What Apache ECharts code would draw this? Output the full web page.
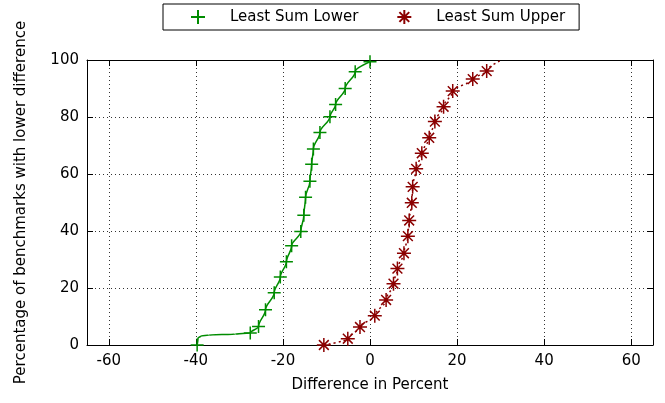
<!DOCTYPE html>
<html>
<head>
<meta charset="utf-8">
<script src="https://cdn.jsdelivr.net/npm/echarts@6/dist/echarts.min.js"></script>
<style>html,body{margin:0;padding:0;background:#fff}#c{width:665px;height:403px}</style>
</head>
<body>
<div id="c"></div>
<script>
// Tick labels
const xTicks = [-60, -40, -20, 0, 20, 40, 60];
const yTicks = [0, 20, 40, 60, 80, 100];

// Least Sum Lower: marker points
const lowerX = [-39.7, -27.5, -25.6, -24.0, -22.0, -20.6, -19.2, -18.0, -15.9, -15.2, -14.8, -13.8, -13.4, -13.0, -11.5, -9.2, -7.9, -5.7, -3.4, 0.0];
const lowerY = [0, 4.2, 6.5, 12.4, 18.3, 23.9, 29.2, 34.8, 39.8, 45.5, 51.8, 57.5, 63.4, 68.8, 74.6, 80.1, 84.4, 90.0, 95.9, 99.4];
// Least Sum Lower: traced curve (knee near the bottom, then through the markers)
const lowerCurveX = [-39.7, -39.5, -38.8, -37.0, -31.0, -27.5, -25.6, -24.0, -22.0, -20.6, -19.2, -18.0, -15.9, -15.2, -14.8, -13.8, -13.4, -13.0, -11.5, -9.2, -7.9, -5.7, -3.4, 0.0];
const lowerCurveY = [0, 2.4, 3.2, 3.5, 3.8, 4.2, 6.5, 12.4, 18.3, 23.9, 29.2, 34.8, 39.8, 45.5, 51.8, 57.5, 63.4, 68.8, 74.6, 80.1, 84.4, 90.0, 95.9, 99.4];

// Least Sum Upper: marker points
const upperX = [-10.6, -5.1, -2.3, 1.1, 3.7, 5.4, 6.3, 7.8, 8.7, 9.0, 9.6, 9.8, 10.6, 11.9, 13.6, 14.9, 16.9, 19.0, 23.6, 26.8];
const upperY = [0, 2.2, 6.3, 10.3, 15.8, 21.5, 26.8, 32.2, 38.2, 43.7, 49.9, 55.5, 61.8, 67.3, 72.7, 78.4, 83.6, 89.1, 93.3, 96.1];
// Least Sum Upper: traced curve (continues to the top border)
const upperCurveX = [-10.6, -5.1, -2.3, 1.1, 3.7, 5.4, 6.3, 7.8, 8.7, 9.0, 9.6, 9.8, 10.6, 11.9, 13.6, 14.9, 16.9, 19.0, 23.6, 26.8, 30.2];
const upperCurveY = [0, 2.2, 6.3, 10.3, 15.8, 21.5, 26.8, 32.2, 38.2, 43.7, 49.9, 55.5, 61.8, 67.3, 72.7, 78.4, 83.6, 89.1, 93.3, 96.1, 100];

const zip = (a, b) => a.map((v, i) => [v, b[i]]);
const GREEN = '#008c00';
const RED = '#8b0000';
const FONT = 'DejaVu Sans';
const FS = 15;
const plusPath = 'path://M0,6L12,6M6,0L6,12';
const starPath = 'path://M0,6L12,6M6,0L6,12M1.8,1.8L10.2,10.2M10.2,1.8L1.8,10.2';

const baseX = {
  type: 'value', min: -65, max: 65,
  axisLine: { show: true, onZero: false, lineStyle: { color: '#000', width: 1 } },
  axisTick: { show: true, inside: true, length: 6, customValues: xTicks, lineStyle: { color: '#000' } },
  splitLine: { show: false }
};
const baseY = {
  type: 'value', min: 0, max: 100, interval: 20,
  axisLine: { show: true, onZero: false, lineStyle: { color: '#000', width: 1 } },
  axisTick: { show: true, inside: true, length: 6, lineStyle: { color: '#000' } },
  splitLine: { show: false }
};

const chart = echarts.init(document.getElementById('c'), null, { renderer: 'canvas' });
chart.setOption({
  animation: false,
  backgroundColor: '#fff',
  textStyle: { fontFamily: FONT },
  grid: { left: 87, right: 12, top: 60, bottom: 58 },
  legend: {
    left: 163, top: 4,
    padding: [5, 14, 5, 27],
    borderColor: '#000', borderWidth: 1, borderRadius: 0,
    itemWidth: 14, itemHeight: 14, itemGap: 38,
    data: ['Least Sum Lower', 'Least Sum Upper'],
    textStyle: { fontFamily: FONT, fontSize: FS, color: '#000', padding: [0, 0, 0, 20] }
  },
  xAxis: [
    Object.assign({}, baseX, {
      position: 'bottom',
      name: 'Difference in Percent', nameLocation: 'middle', nameGap: 33,
      nameTextStyle: { fontFamily: FONT, fontSize: FS, color: '#000' },
      axisLabel: { show: true, customValues: xTicks, margin: 9, fontFamily: FONT, fontSize: FS, color: '#000' },
      splitLine: { show: true, lineStyle: { color: '#333', width: 1, type: [1, 3] } }
    }),
    Object.assign({}, baseX, { position: 'top', axisLabel: { show: false } })
  ],
  yAxis: [
    Object.assign({}, baseY, {
      position: 'left',
      name: 'Percentage of benchmarks with lower difference', nameLocation: 'middle', nameGap: 58,
      nameTextStyle: { fontFamily: FONT, fontSize: FS, color: '#000' },
      axisLabel: { show: true, margin: 8, fontFamily: FONT, fontSize: FS, color: '#000' },
      splitLine: { show: true, lineStyle: { color: '#333', width: 1, type: [1, 3] } }
    }),
    Object.assign({}, baseY, { position: 'right', axisLabel: { show: false } })
  ],
  series: [
    {
      type: 'line', data: zip(lowerCurveX, lowerCurveY), showSymbol: false, symbol: 'none',
      smooth: 0.35, smoothMonotone: 'y',
      lineStyle: { color: GREEN, width: 1.5 }, z: 2, silent: true
    },
    {
      type: 'scatter', name: 'Least Sum Lower', data: zip(lowerX, lowerY),
      symbol: plusPath, symbolSize: 13,
      itemStyle: { color: GREEN, borderColor: GREEN, borderWidth: 1.5, opacity: 1 }, z: 3
    },
    {
      type: 'line', data: zip(upperCurveX, upperCurveY), showSymbol: false, symbol: 'none',
      smooth: 0.35, smoothMonotone: 'y',
      lineStyle: { color: RED, width: 1.5, type: [2, 3] }, z: 2, silent: true
    },
    {
      type: 'scatter', name: 'Least Sum Upper', data: zip(upperX, upperY),
      symbol: starPath, symbolSize: 14,
      itemStyle: { color: RED, borderColor: RED, borderWidth: 1.5, opacity: 1 }, z: 3
    }
  ]
});
</script>
</body>
</html>
